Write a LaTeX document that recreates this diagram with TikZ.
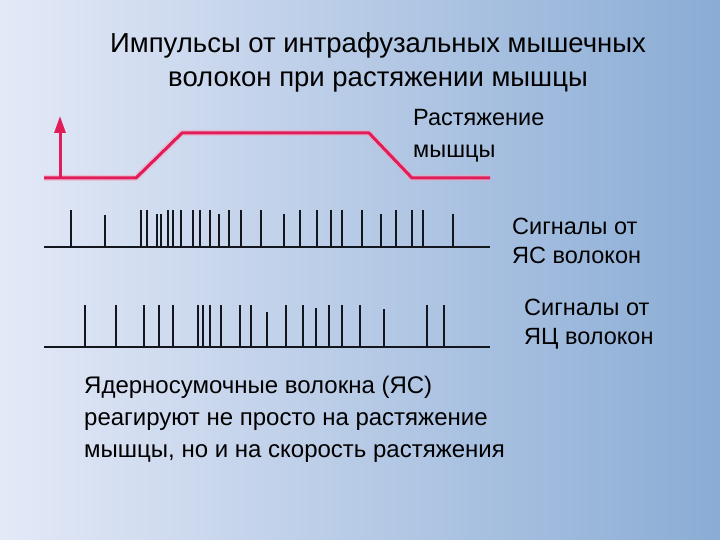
\documentclass[tikz,border=0pt]{standalone}
\usepackage{fontspec}
\setmainfont{Liberation Sans}
\usetikzlibrary{arrows.meta}

\definecolor{bgleft}{RGB}{228,233,247}
\definecolor{bgmid}{RGB}{198,213,235}
\definecolor{bgright}{RGB}{138,172,213}
\definecolor{stretchred}{RGB}{226,28,88}
\definecolor{spikeblack}{RGB}{20,22,30}

\tikzstyle{stretch}=[draw=stretchred,line width=3pt,line join=round]
\tikzstyle{glow}=[draw=stretchred!40,line width=6pt,line join=round,opacity=0.5]
\tikzstyle{base}=[draw=spikeblack,line width=2.6pt]
\tikzstyle{spike}=[draw=spikeblack,line width=2.4pt]
\tikzstyle{label}=[font=\fontsize{23.5}{29}\selectfont,align=left,anchor=west,inner sep=0pt]

\begin{document}
\begin{tikzpicture}[x=1pt,y=-1pt]

   \shade[left color=bgleft,middle color=bgmid,right color=bgright] (0,0) rectangle (720,540);
   \useasboundingbox (0,0) rectangle (720,540);

   % title
   \node[font=\fontsize{27.5}{34}\selectfont,align=center,inner sep=0pt] (title) at (378,62)
      {Импульсы от интрафузальных мышечных\\волокон при растяжении мышцы};

   % stretch of the muscle
   \draw[glow] (44,178) -- (136,178) -- (182,133) -- (369,133) -- (412,178) -- (490,178);
   \draw[stretch] (44,178) coordinate(s0) -- (136,178) coordinate(s1)
-- (182,133) coordinate(s2) -- (369,133) coordinate(s3) -- (412,178) coordinate(s4)
-- (490,178) coordinate(s5);
   \coordinate (a0) at (60,178);
   \coordinate (a1) at (60,116);
   \draw[stretch,-{Triangle[length=17pt,width=11pt]}] (a0) -- (a1);
   \node[label,font=\fontsize{23.5}{32}\selectfont] (stretchlbl) at (413,136) {Растяжение\\мышцы};

   % bag fibres
   \draw[base] (44,247) coordinate(b0) -- (490,247) coordinate(b1);
   \foreach \x/\t in {71/210,105/215,141/210,147/210,157/214,161/214,168/210,
      173/210,181/210,193/210,200/210,210/210,219/214,229/210,241/210,261/210,
      284/214,300/210,317/210,331/210,342/210,362/210,381/214,396/210,412/210,
      423/210,453/214}
      \draw[spike] (\x,247) -- (\x,\t);
   \node[label] (baglbl) at (512,241) {Сигналы от\\ЯС волокон};

   % chain fibres
   \draw[base] (44,347) coordinate(c0) -- (490,347) coordinate(c1);
   \foreach \x/\t in {85/305,116/305,144/305,159/305,173/305,198/305,203/305,
      210/305,221/305,240/305,251/305,267/312,286/305,303/305,316/308,329/305,
      342/305,360/305,384/309,427/305,444/305}
      \draw[spike] (\x,347) -- (\x,\t);
   \node[label] (chainlbl) at (524,324) {Сигналы от\\ЯЦ волокон};

   % note
   \node[label,font=\fontsize{24}{32}\selectfont] (note) at (84,419)
      {Ядерносумочные волокна (ЯС)\\реагируют не просто на растяжение\\мышцы, но и на скорость растяжения};

\end{tikzpicture}
\end{document}
